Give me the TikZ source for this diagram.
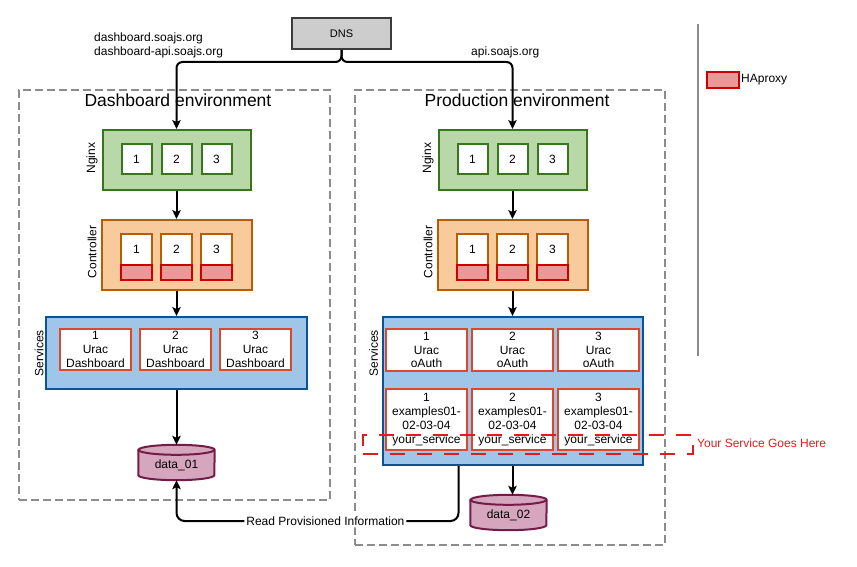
\documentclass[tikz,border=0pt]{standalone}
\usepackage{fontspec}
\setmainfont{Liberation Sans}
\usetikzlibrary{arrows.meta}
\definecolor{dnsfill}{RGB}{205,205,205}
\definecolor{dnsdraw}{RGB}{60,60,60}
\definecolor{envgray}{RGB}{140,140,140}
\definecolor{ngfill}{RGB}{185,216,167}
\definecolor{ngdraw}{RGB}{56,118,29}
\definecolor{ctfill}{RGB}{249,203,156}
\definecolor{ctdraw}{RGB}{180,95,6}
\definecolor{hafill}{RGB}{234,153,153}
\definecolor{hadraw}{RGB}{204,0,0}
\definecolor{svfill}{RGB}{159,197,232}
\definecolor{svdraw}{RGB}{11,83,148}
\definecolor{sbdraw}{RGB}{220,72,44}
\definecolor{dbfill}{RGB}{213,166,189}
\definecolor{dbdraw}{RGB}{116,27,71}
\definecolor{reddash}{RGB}{222,30,30}
\begin{document}
\begin{tikzpicture}[x=1pt,y=-1pt,
  txt/.style={font=\fontsize{12}{14}\selectfont, inner sep=0pt},
  rtxt/.style={txt, rotate=90},
  title/.style={font=\fontsize{17.5}{20}\selectfont, inner sep=0pt},
  dnsbox/.style={draw=dnsdraw, fill=dnsfill, line width=2pt, minimum width=99pt, minimum height=31pt, font=\fontsize{11}{13}\selectfont},
  envbox/.style={draw=envgray, line width=1.8pt, dash pattern=on 8pt off 4pt},
  ngbox/.style={draw=ngdraw, fill=ngfill, line width=2pt, minimum width=148pt, minimum height=60pt},
  nginner/.style={draw=ngdraw, fill=white, line width=2pt, minimum width=30pt, minimum height=30pt, font=\fontsize{12}{14}\selectfont},
  ctbox/.style={draw=ctdraw, fill=ctfill, line width=2pt, minimum width=150pt, minimum height=70pt},
  ctinner/.style={draw=ctdraw, fill=white, line width=2pt, minimum width=31pt, minimum height=46pt, font=\fontsize{12}{14}\selectfont, text depth=15pt},
  habox/.style={draw=hadraw, fill=hafill, line width=2pt, minimum width=31pt, minimum height=15pt, inner sep=0pt},
  svbox/.style={draw=svdraw, fill=svfill, line width=2pt},
  sbox/.style={draw=sbdraw, fill=white, line width=2pt, align=center, inner sep=0pt, font=\fontsize{12}{13.8}\selectfont},
  dbnode/.style={minimum width=76pt, minimum height=35pt, inner sep=0pt},
  dbshape/.style={draw=dbdraw, fill=dbfill, line width=2pt},
  arr/.style={draw=black, line width=2pt, -{Stealth[length=9pt,width=8.5pt,inset=2pt]}},
  ydash/.style={draw=reddash, line width=2pt, dash pattern=on 15pt off 12pt}
]
\useasboundingbox (0,0) rectangle (857,567);

% environments
\node[envbox, minimum width=311pt, minimum height=410pt] (denv) at (174.5,295) {};
\node[envbox, minimum width=310pt, minimum height=455pt] (penv) at (510,317.5) {};
\node[title] (dtitle) at (178,100) {Dashboard environment};
\node[title] (ptitle) at (517,100) {Production environment};

% DNS
\node[dnsbox] (dns) at (341.5,33.5) {DNS};
\node[txt, align=left, anchor=west] (dlbl) at (94,45) {dashboard.soajs.org\\dashboard-api.soajs.org};
\node[txt, anchor=west] (albl) at (471,52) {api.soajs.org};

% Dashboard side
\node[ngbox] (nL) at (176.5,160) {};
\node[rtxt] (nLl) at (92,158) {Nginx};
\node[nginner] (nL1) at (136.5,159) {1};
\node[nginner] (nL2) at (176.5,159) {2};
\node[nginner] (nL3) at (216.5,159) {3};

\node[ctbox] (cL) at (176.5,255) {};
\node[rtxt] (cLl) at (92,252) {Controller};
\foreach \i/\x in {1/136.5,2/176.5,3/216.5}{
  \node[ctinner] (cL\i) at (\x,257) {\i};
  \node[habox] (hL\i) at (\x,272.5) {};
}

\node[svbox, minimum width=261pt, minimum height=72pt] (sL) at (176.5,353) {};
\node[rtxt] (sLl) at (39,353) {Services};
\foreach \i/\x in {1/95.5,2/175.5,3/255.5}{
  \node[sbox, minimum width=71pt, minimum height=41pt] (sL\i) at (\x,349.5) {\i\\Urac\\Dashboard};
}

\node[dbnode] (d1) at (176.5,462.5) {};
\path[dbshape] ([yshift=-5pt]d1.north west) -- ([yshift=5pt]d1.south west) arc (180:360:38pt and 5pt) -- ([yshift=-5pt]d1.north east) arc (0:180:38pt and 5pt) -- cycle;
\draw[dbdraw, line width=2pt] ([yshift=-5pt]d1.north west) arc (180:360:38pt and 5pt);
\node[txt] (d1t) at (176.5,465) {data\_01};

% Production side
\node[ngbox] (nR) at (512.5,160) {};
\node[rtxt] (nRl) at (428,158) {Nginx};
\node[nginner] (nR1) at (472.5,159) {1};
\node[nginner] (nR2) at (512.5,159) {2};
\node[nginner] (nR3) at (552.5,159) {3};

\node[ctbox] (cR) at (512.5,255) {};
\node[rtxt] (cRl) at (428,252) {Controller};
\foreach \i/\x in {1/472.5,2/512.5,3/552.5}{
  \node[ctinner] (cR\i) at (\x,257) {\i};
  \node[habox] (hR\i) at (\x,272.5) {};
}

\node[svbox, minimum width=260pt, minimum height=148pt] (sR) at (512.5,391) {};
\node[rtxt] (sRl) at (373.5,353) {Services};
\foreach \i/\x in {1/426.5,2/512.5,3/598.5}{
  \node[sbox, minimum width=81pt, minimum height=42pt] (sRa\i) at (\x,350) {\i\\Urac\\oAuth};
  \node[sbox, minimum width=81pt, minimum height=61pt] (sRb\i) at (\x,419.5) {\i\\examples01-\\02-03-04\\your\_service};
}

\node[dbnode] (d2) at (508.5,512.5) {};
\path[dbshape] ([yshift=-5pt]d2.north west) -- ([yshift=5pt]d2.south west) arc (180:360:38pt and 5pt) -- ([yshift=-5pt]d2.north east) arc (0:180:38pt and 5pt) -- cycle;
\draw[dbdraw, line width=2pt] ([yshift=-5pt]d2.north west) arc (180:360:38pt and 5pt);
\node[txt] (d2t) at (508.5,515) {data\_02};

% your service box
\node[ydash, minimum width=330pt, minimum height=19pt] (ysb) at (528,444.5) {};
\node[txt, text=reddash, anchor=west] (yslbl) at (697,443) {Your Service Goes Here};

% legend
\draw[envgray, line width=2pt] (698,24) -- (698,356);
\node[habox, minimum width=32pt, minimum height=16pt] (leg) at (723,80) {};
\node[txt, anchor=west] (legt) at (741,80) {HAproxy};

% connectors
\draw[arr, rounded corners=6pt] (dns.south) -- ++(0,12) -| (nL.north);
\draw[arr, rounded corners=6pt] (dns.south) -- ++(0,12) -| (nR.north);
\draw[arr] (nL.south) -- (cL.north);
\draw[arr] (cL.south) -- (sL.north);
\draw[arr] (sL.south) -- (d1.north);
\draw[arr] (nR.south) -- (cR.north);
\draw[arr] (cR.south) -- (sR.north);
\draw[arr] (sR.south) -- (sR.south |- d2.north);
\coordinate (rp) at ([xshift=-54pt]sR.south);
\draw[arr, rounded corners=8pt] (rp) -- ++(0,55) -| node[pos=0.236, txt, fill=white, inner xsep=2pt, inner ysep=2pt] {Read Provisioned Information} (d1.south);
\end{tikzpicture}
\end{document}
